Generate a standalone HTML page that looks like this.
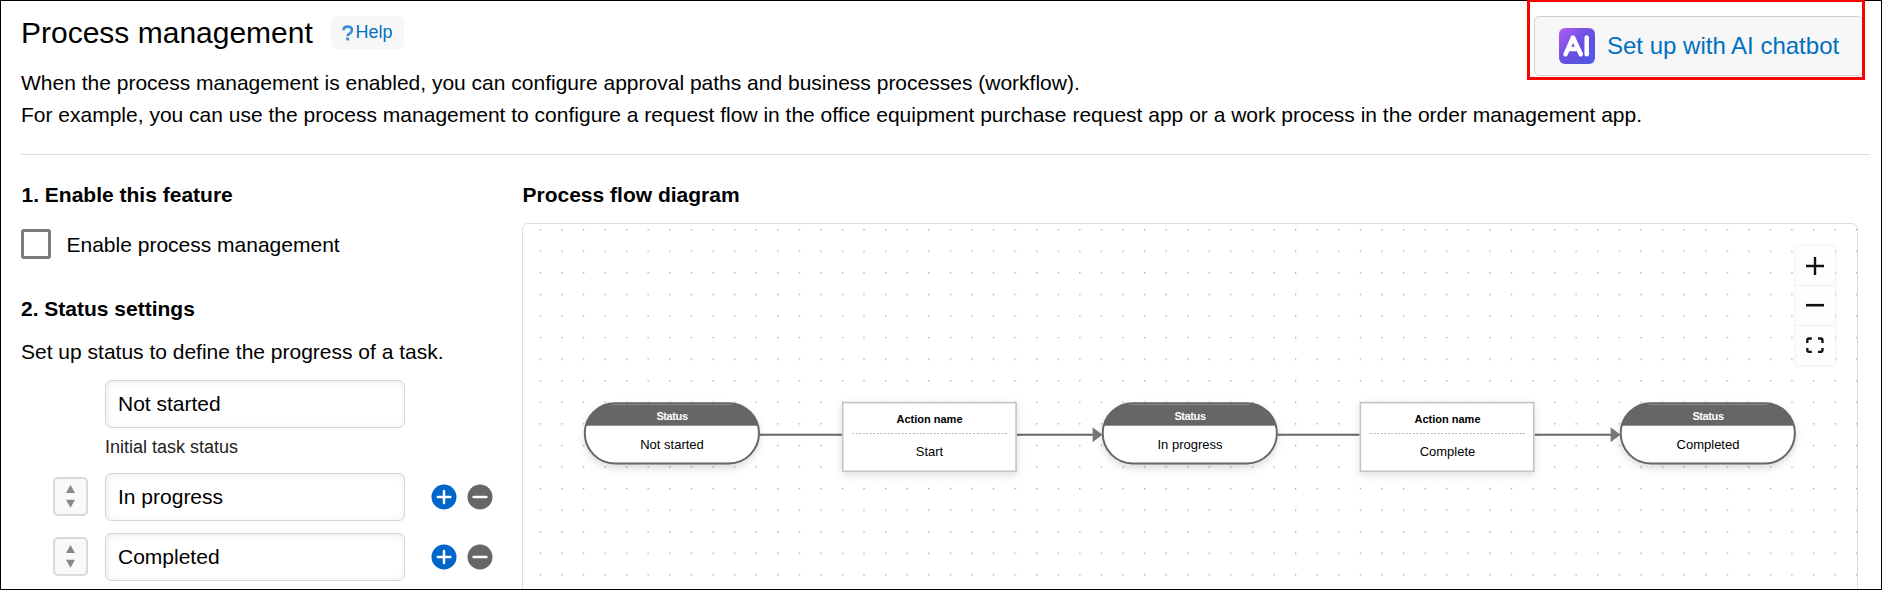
<!DOCTYPE html>
<html>
<head>
<meta charset="utf-8">
<style>
html,body{margin:0;padding:0;}
body{width:1882px;height:590px;position:relative;overflow:hidden;background:#fff;font-family:"Liberation Sans",sans-serif;color:#000;}
.a{position:absolute;white-space:nowrap;line-height:normal;}
#frame{position:absolute;left:0;top:0;width:1880px;height:588px;border:1px solid #000;z-index:20;pointer-events:none;}
.t21{font-size:21px;}
.b{font-weight:700;}
.input{position:absolute;left:105px;width:298px;height:46px;border:1px solid #d6d6d6;border-radius:6px;background:#fff;box-shadow:inset 1px 1px 7px rgba(0,0,0,0.09);}
.handle{position:absolute;left:53px;width:31px;height:35px;border:2px solid #d9d9d9;border-radius:5px;background:#f7f9fa;}
.circ{position:absolute;width:25px;height:25px;border-radius:50%;}
.plus{background:#0066cc;}
.minus{background:#666;}
.pill{position:absolute;width:173px;height:58px;border:2px solid #666;border-radius:31px;background:#fff;overflow:hidden;box-shadow:0 4px 8px rgba(0,0,0,0.18);}
.pill .hd{position:absolute;left:0;top:0;right:0;height:21px;background:#666;}
.act{position:absolute;width:171px;height:66px;border:2px solid #d0d0d0;background:#fff;box-shadow:0 4px 6px rgba(0,0,0,0.12);}
</style>
</head>
<body>
<div id="frame"></div>

<!-- header -->
<div class="a" style="left:21px;top:16px;font-size:30px;">Process management</div>
<div style="position:absolute;left:331px;top:16px;width:73px;height:33px;border-radius:6px;background:#f7f7f7;"></div>
<svg style="position:absolute;left:338px;top:22.3px;" width="20" height="22" viewBox="0 0 20 22"><path d="M5.5 8.2 C5.6 5.8 7.4 4.6 9.8 4.6 C12.3 4.6 13.9 6.2 13.9 8.2 C13.9 10.2 12.5 11 11.2 11.9 C10 12.7 9.6 13.3 9.6 14.3" fill="none" stroke="#3a8fd9" stroke-width="2.6"/><rect x="8.1" y="15.6" width="3.1" height="2.8" fill="#3a8fd9"/></svg>
<div class="a" style="left:355.5px;top:22px;font-size:18px;color:#0071c1;">Help</div>

<div class="a t21" style="left:21px;top:71px;">When the process management is enabled, you can configure approval paths and business processes (workflow).</div>
<div class="a t21" style="left:21px;top:103px;">For example, you can use the process management to configure a request flow in the office equipment purchase request app or a work process in the order management app.</div>

<div style="position:absolute;left:21px;top:154px;width:1849px;height:1px;background:#dddddd;"></div>

<!-- AI button -->
<div style="position:absolute;left:1534px;top:16px;width:327px;height:58px;border:1px solid #d0d0d0;border-radius:5px;background:#f7f7f7;"></div>
<div style="position:absolute;left:1559px;top:28px;width:36px;height:36px;border-radius:6px;background:linear-gradient(135deg,#b35cf6 0%,#6a4fe0 50%,#4a5ae8 100%);"></div>
<svg style="position:absolute;left:1559px;top:28px;" width="36" height="36" viewBox="0 0 36 36">
  <path d="M6.5 26.3 L14 9.5 L21.8 26.3 M10 21 H18" fill="none" stroke="#fff" stroke-width="4.5" stroke-linecap="round" stroke-linejoin="round"/>
  <path d="M27.7 9.5 V26.3" fill="none" stroke="#fff" stroke-width="4.5" stroke-linecap="round"/>
</svg>
<div class="a" style="left:1607px;top:32px;font-size:24px;color:#0071c1;">Set up with AI chatbot</div>
<div style="position:absolute;left:1527px;top:-1px;width:332px;height:75px;border:3px solid #ff0000;z-index:40;"></div>

<!-- left column -->
<div class="a t21 b" style="left:21.5px;top:183px;">1. Enable this feature</div>
<div style="position:absolute;left:21px;top:229px;width:24px;height:24px;border:3px solid #7a7a7a;border-radius:3px;background:#fff;"></div>
<div class="a t21" style="left:66.5px;top:232.5px;">Enable process management</div>

<div class="a t21 b" style="left:21px;top:297px;">2. Status settings</div>
<div class="a t21" style="left:21px;top:339.5px;">Set up status to define the progress of a task.</div>

<div class="input" style="top:380px;"></div>
<div class="a t21" style="left:118px;top:392px;">Not started</div>
<div class="a" style="left:105px;top:437px;font-size:18px;color:#222;">Initial task status</div>

<div class="handle" style="top:477px;"></div>
<svg style="position:absolute;left:53px;top:477px;" width="35" height="38" viewBox="0 0 35 38"><path d="M13 16 L17.5 8 L22 16 Z M13 22.8 L17.5 30.8 L22 22.8 Z" fill="#888"/></svg>
<div class="input" style="top:473px;"></div>
<div class="a t21" style="left:118px;top:485px;">In progress</div>
<svg style="position:absolute;left:431px;top:484px;" width="26" height="26" viewBox="0 0 26 26"><circle cx="13" cy="13" r="12.5" fill="#0066cc"/><path d="M6.8 13 H19.3 M13 7 V18.9" stroke="#fff" stroke-width="2.5" stroke-linecap="round"/></svg>
<svg style="position:absolute;left:467px;top:484px;" width="26" height="26" viewBox="0 0 26 26"><circle cx="13" cy="13" r="12.5" fill="#666"/><path d="M6.7 13 H19.3" stroke="#fff" stroke-width="2.7" stroke-linecap="round"/></svg>

<div class="handle" style="top:537px;"></div>
<svg style="position:absolute;left:53px;top:537px;" width="35" height="38" viewBox="0 0 35 38"><path d="M13 16 L17.5 8 L22 16 Z M13 22.8 L17.5 30.8 L22 22.8 Z" fill="#888"/></svg>
<div class="input" style="top:533px;"></div>
<div class="a t21" style="left:118px;top:545px;">Completed</div>
<svg style="position:absolute;left:431px;top:544px;" width="26" height="26" viewBox="0 0 26 26"><circle cx="13" cy="13" r="12.5" fill="#0066cc"/><path d="M6.8 13 H19.3 M13 7 V18.9" stroke="#fff" stroke-width="2.5" stroke-linecap="round"/></svg>
<svg style="position:absolute;left:467px;top:544px;" width="26" height="26" viewBox="0 0 26 26"><circle cx="13" cy="13" r="12.5" fill="#666"/><path d="M6.7 13 H19.3" stroke="#fff" stroke-width="2.7" stroke-linecap="round"/></svg>

<!-- diagram -->
<div class="a t21 b" style="left:522.5px;top:183px;">Process flow diagram</div>
<div id="diag" style="position:absolute;left:522px;top:223px;width:1334px;height:400px;border:1px solid #dddddd;border-radius:6px;overflow:hidden;background:#fff;">
  <svg style="position:absolute;left:0;top:0;" width="1334" height="400">
    <defs><pattern id="dots" patternUnits="userSpaceOnUse" x="16.7" y="5.0" width="21.58" height="21.58"><rect x="0" y="0" width="1.3" height="1.3" fill="#a0a0a0"/></pattern></defs>
    <rect width="1334" height="400" fill="url(#dots)"/>
  </svg>
</div>
<!-- edges -->
<svg style="position:absolute;left:0;top:0;" width="1882" height="590">
  <g stroke="#666" stroke-width="2" fill="none">
    <path d="M760 434.8 H842"/>
    <path d="M1017 434.8 H1094"/>
    <path d="M1278 434.8 H1360"/>
    <path d="M1534 434.8 H1612"/>
  </g>
  <path d="M1092.6 427.3 L1102.4 434.8 L1092.6 442.3 Z" fill="#777"/>
  <path d="M1610.6 427.3 L1620.4 434.8 L1610.6 442.3 Z" fill="#777"/>
</svg>

<svg style="position:absolute;left:0;top:0;overflow:visible" width="1882" height="590"><defs><clipPath id="c583"><rect x="585.8" y="404.2" width="174.2" height="60.2" rx="30.1" transform="translate(-1 -1)"/></clipPath></defs><rect x="584.8" y="403.2" width="174.2" height="60.2" rx="30.1" fill="#fff" style="filter:drop-shadow(0 4px 4px rgba(0,0,0,0.16))"/><rect x="583.8" y="402.2" width="176.2" height="23.5" fill="#666" clip-path="url(#c583)"/><path d="M611.8 404.5 H732.0" stroke="#959595" stroke-width="1"/><rect x="584.8" y="403.2" width="174.2" height="60.2" rx="30.1" fill="none" stroke="#666" stroke-width="2"/></svg>
<div class="a b" style="left:584px;width:176px;text-align:center;top:410px;font-size:11px;letter-spacing:-0.4px;color:#fff;">Status</div>
<div class="a" style="left:584px;width:176px;text-align:center;top:437px;font-size:13px;">Not started</div>

<svg style="position:absolute;left:0;top:0;overflow:visible" width="1882" height="590"><rect x="841.9" y="401.8" width="175" height="70.3" fill="#fff" style="filter:drop-shadow(0 3px 4px rgba(0,0,0,0.13))"/><rect x="842.7" y="402.6" width="173.4" height="68.7" fill="none" stroke="#c4c4c4" stroke-width="1.6"/></svg>
<div class="a b" style="left:842px;width:175px;text-align:center;top:413px;font-size:11px;">Action name</div>
<div style="position:absolute;left:852px;top:433px;width:156px;height:1px;background:repeating-linear-gradient(to right,#b8b8b8 0 2px,transparent 2px 3.56px);"></div>
<div class="a" style="left:842px;width:175px;text-align:center;top:444px;font-size:13px;">Start</div>

<svg style="position:absolute;left:0;top:0;overflow:visible" width="1882" height="590"><defs><clipPath id="c1101"><rect x="1103.7" y="404.2" width="174.2" height="60.2" rx="30.1" transform="translate(-1 -1)"/></clipPath></defs><rect x="1102.7" y="403.2" width="174.2" height="60.2" rx="30.1" fill="#fff" style="filter:drop-shadow(0 4px 4px rgba(0,0,0,0.16))"/><rect x="1101.7" y="402.2" width="176.2" height="23.5" fill="#666" clip-path="url(#c1101)"/><path d="M1129.7 404.5 H1249.9" stroke="#959595" stroke-width="1"/><rect x="1102.7" y="403.2" width="174.2" height="60.2" rx="30.1" fill="none" stroke="#666" stroke-width="2"/></svg>
<div class="a b" style="left:1102px;width:176px;text-align:center;top:410px;font-size:11px;letter-spacing:-0.4px;color:#fff;">Status</div>
<div class="a" style="left:1102px;width:176px;text-align:center;top:437px;font-size:13px;">In progress</div>

<svg style="position:absolute;left:0;top:0;overflow:visible" width="1882" height="590"><rect x="1359.6" y="401.8" width="175" height="70.3" fill="#fff" style="filter:drop-shadow(0 3px 4px rgba(0,0,0,0.13))"/><rect x="1360.4" y="402.6" width="173.4" height="68.7" fill="none" stroke="#c4c4c4" stroke-width="1.6"/></svg>
<div class="a b" style="left:1360px;width:175px;text-align:center;top:413px;font-size:11px;">Action name</div>
<div style="position:absolute;left:1370px;top:433px;width:156px;height:1px;background:repeating-linear-gradient(to right,#b8b8b8 0 2px,transparent 2px 3.56px);"></div>
<div class="a" style="left:1360px;width:175px;text-align:center;top:444px;font-size:13px;">Complete</div>

<svg style="position:absolute;left:0;top:0;overflow:visible" width="1882" height="590"><defs><clipPath id="c1619"><rect x="1621.7" y="404.2" width="174.2" height="60.2" rx="30.1" transform="translate(-1 -1)"/></clipPath></defs><rect x="1620.7" y="403.2" width="174.2" height="60.2" rx="30.1" fill="#fff" style="filter:drop-shadow(0 4px 4px rgba(0,0,0,0.16))"/><rect x="1619.7" y="402.2" width="176.2" height="23.5" fill="#666" clip-path="url(#c1619)"/><path d="M1647.7 404.5 H1767.9" stroke="#959595" stroke-width="1"/><rect x="1620.7" y="403.2" width="174.2" height="60.2" rx="30.1" fill="none" stroke="#666" stroke-width="2"/></svg>
<div class="a b" style="left:1620px;width:176px;text-align:center;top:410px;font-size:11px;letter-spacing:-0.4px;color:#fff;">Status</div>
<div class="a" style="left:1620px;width:176px;text-align:center;top:437px;font-size:13px;">Completed</div>

<!-- controls -->
<div style="position:absolute;left:1796px;top:246px;width:39px;height:119px;background:#fefefe;box-shadow:0 0 3px rgba(0,0,0,0.12);">
  <div style="position:absolute;left:0;top:39px;width:39px;height:1px;background:#eee;"></div>
  <div style="position:absolute;left:0;top:79px;width:39px;height:1px;background:#eee;"></div>
  <svg style="position:absolute;left:0;top:0;" width="39" height="119" viewBox="0 0 39 119">
    <path d="M10 20 H28 M19 11 V29" stroke="#111" stroke-width="2.4"/>
    <path d="M10 59.2 H28" stroke="#111" stroke-width="2.6"/>
    <path d="M11.3 97 V94.3 A1.8 1.8 0 0 1 13.1 92.5 H15.8 M22 92.5 H24.7 A1.8 1.8 0 0 1 26.5 94.3 V97 M26.5 102.1 V104.1 A1.8 1.8 0 0 1 24.7 105.9 H22 M15.8 105.9 H13.1 A1.8 1.8 0 0 1 11.3 104.1 V102.1" fill="none" stroke="#111" stroke-width="2.35"/>
  </svg>
</div>

</body>
</html>
